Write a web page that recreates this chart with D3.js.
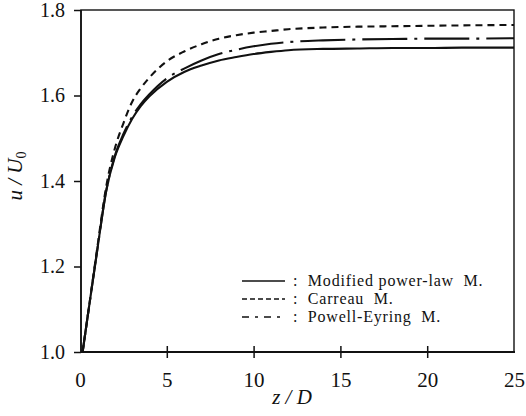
<!DOCTYPE html>
<html><head><meta charset="utf-8">
<script src="https://cdn.jsdelivr.net/npm/d3@7"></script>
<style>
html,body{margin:0;padding:0;background:#fff;}
svg{display:block;}
</style></head>
<body><svg id="chart" width="526" height="416" font-family="Liberation Serif"></svg>
<script>
// Data
const zValues = [0.15, 0.5, 1, 1.5, 2, 2.5, 3, 3.5, 4, 5, 6, 7, 8, 9, 10, 11, 12, 14, 16, 18, 20, 22, 25];
const powerLaw = [1.00, 1.10, 1.24, 1.375, 1.455, 1.505, 1.545, 1.575, 1.598, 1.632, 1.655, 1.670, 1.682, 1.690, 1.697, 1.702, 1.706, 1.709, 1.710, 1.711, 1.711, 1.712, 1.712];
const carreau  = [1.00, 1.10, 1.245, 1.385, 1.475, 1.535, 1.585, 1.617, 1.642, 1.680, 1.703, 1.720, 1.733, 1.741, 1.747, 1.751, 1.755, 1.759, 1.761, 1.762, 1.763, 1.764, 1.765];
const powellEyring = [1.00, 1.10, 1.24, 1.375, 1.458, 1.51, 1.55, 1.58, 1.603, 1.640, 1.663, 1.682, 1.697, 1.707, 1.715, 1.721, 1.725, 1.729, 1.731, 1.732, 1.733, 1.733, 1.734];
const xTicks = [0, 5, 10, 15, 20, 25];
const yTicks = [1.0, 1.2, 1.4, 1.6, 1.8];
const seriesNames = [":  Modified power-law  M.", ":  Carreau  M.", ":  Powell-Eyring  M."];

const FONT = "Liberation Serif";
const svg = d3.select("#chart");
const x = d3.scaleLinear().domain([0, 25]).range([80, 514]);
const y = d3.scaleLinear().domain([1.0, 1.8]).range([352, 10]);

// frame
svg.append("rect").attr("x", 81).attr("y", 10).attr("width", 514 - 81).attr("height", 342)
  .attr("fill", "none").attr("stroke", "#111").attr("stroke-width", 1.4);
svg.append("line").attr("x1", 81).attr("x2", 515).attr("y1", 352).attr("y2", 352)
  .attr("stroke", "#111").attr("stroke-width", 2);
svg.append("line").attr("x1", 81).attr("x2", 81).attr("y1", 10).attr("y2", 352)
  .attr("stroke", "#111").attr("stroke-width", 1.6);

// y axis
const yAxis = d3.axisLeft(y).tickValues(yTicks).tickFormat(d3.format(".1f")).tickSize(7).tickPadding(9);
const gy = svg.append("g").attr("transform", "translate(81,0)").call(yAxis).attr("font-family", FONT);
gy.select(".domain").remove();
gy.selectAll(".tick line").attr("stroke", "#111").attr("stroke-width", 1.5);
gy.selectAll(".tick text").attr("font-size", 20).attr("font-family", FONT).attr("fill", "#111");

// x axis
const xAxis = d3.axisBottom(x).tickValues(xTicks).tickFormat(d3.format("d")).tickSize(6).tickPadding(14);
const gx = svg.append("g").attr("transform", "translate(0,352)").call(xAxis).attr("font-family", FONT);
gx.select(".domain").remove();
gx.selectAll(".tick line").attr("y1", -6).attr("stroke", "#111").attr("stroke-width", 1.5)
  .filter(d => d === 0 || d === 25).remove();
gx.selectAll(".tick text").attr("font-size", 21).attr("font-family", FONT).attr("fill", "#111");

// curves
const line = d3.line().x(d => x(d[0])).y(d => y(d[1])).curve(d3.curveMonotoneX);
const series = [
  {vals: powerLaw, dash: null},
  {vals: carreau, dash: "7,5"},
  {vals: powellEyring, dash: "45,7,3,7"}
];
const legendDash = [null, "5,3", "7,6,3,6"];
series.forEach(s => {
  svg.append("path").datum(zValues.map((z, i) => [z, s.vals[i]]))
    .attr("d", line).attr("fill", "none").attr("stroke", "#111")
    .attr("stroke-width", 2.1).attr("stroke-dasharray", s.dash);
});

// legend
const ly = [281, 299, 317];
seriesNames.forEach((n, i) => {
  svg.append("line").attr("x1", 242).attr("x2", 285).attr("y1", ly[i]).attr("y2", ly[i])
    .attr("stroke", "#111").attr("stroke-width", 1.6).attr("stroke-dasharray", legendDash[i]);
  svg.append("text").attr("x", 293).attr("y", ly[i] + 5).attr("font-size", 16)
    .attr("font-family", FONT).attr("letter-spacing", 0.8).attr("fill", "#111")
    .style("white-space", "pre").text(n);
});

// axis titles
svg.append("text").attr("x", 292).attr("y", 404).attr("text-anchor", "middle")
  .attr("font-family", FONT).attr("fill", "#111")
  .attr("font-size", 21).attr("font-style", "italic").text("z / D").style("white-space", "pre");
const yt = svg.append("text").attr("transform", "translate(22,176) rotate(-90)")
  .attr("font-family", FONT).attr("fill", "#111")
  .attr("text-anchor", "middle").attr("font-size", 21).attr("font-style", "italic").style("white-space", "pre");
yt.append("tspan").text("u / U");
yt.append("tspan").attr("font-size", 14).attr("dy", 4).attr("font-style", "normal").text("0");
</script></body></html>
